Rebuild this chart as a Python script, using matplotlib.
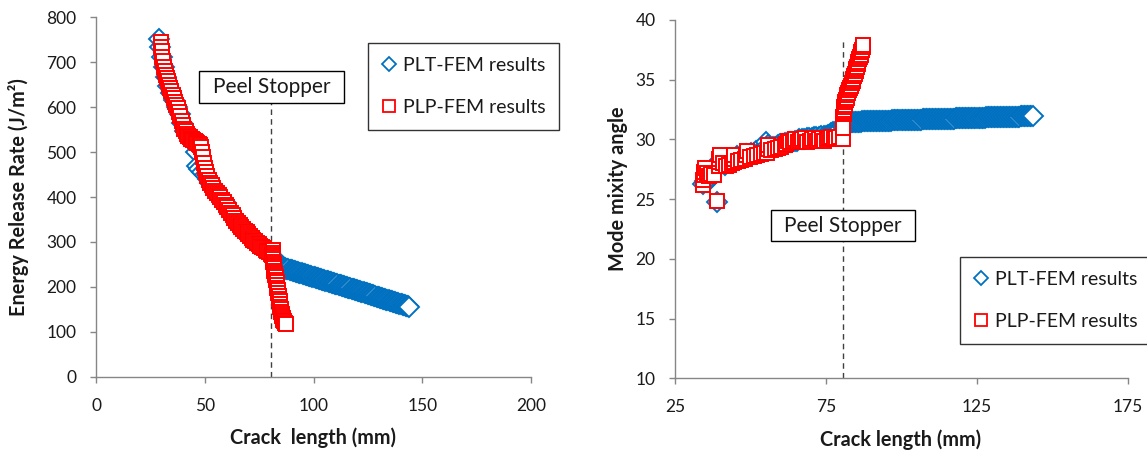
import matplotlib
matplotlib.use("Agg")
import matplotlib.pyplot as plt
from matplotlib.lines import Line2D
from matplotlib.patches import Rectangle

plt.rcParams['font.family'] = ['Lato', 'DejaVu Sans']

# ---------------- data: energy release rate (left) ----------------
plt_a_G = [28.8, 29.5, 30.3, 31.2, 32.2, 33.3, 34.5, 35.8, 37.1, 38.4, 39.7, 41.0,
           42.3, 43.6, 44.9, 46.0, 46.4, 47.5, 48.8, 50.0, 51.3, 52.6, 53.9, 55.2,
           56.5, 57.8, 59.1, 60.4, 61.7, 63.0, 64.3, 65.6, 66.9, 68.2, 69.5, 70.8,
           72.1, 73.4, 74.7, 76.0, 77.3, 78.6, 79.9,
           81.0, 81.5, 82.0, 82.5, 83.0, 83.5, 84.0, 84.5, 85.0, 85.5,
           86.0, 86.5, 87.0, 87.5, 88.0, 88.5, 89.0, 89.5,
           90.0, 90.5, 91.0, 91.5, 92.0, 92.5, 93.0, 93.5,
           94.0, 94.5, 95.0, 95.5, 96.0, 96.5, 97.0, 97.5,
           98.0, 98.5, 99.0, 99.5, 100.0, 100.5, 101.0, 101.5,
           102.0, 102.5, 103.0, 103.5, 104.0, 104.5, 105.0, 105.5,
           106.0, 106.5, 107.0, 107.5, 108.0, 108.5, 109.0, 109.5,
           110.0, 110.5, 111.0, 111.5, 112.0, 112.5, 113.0, 113.5,
           114.0, 114.5, 115.0, 115.5, 116.0, 116.5, 117.0, 117.5,
           118.0, 118.5, 119.0, 119.5, 120.0, 120.5, 121.0, 121.5,
           122.0, 122.5, 123.0, 123.5, 124.0, 124.5, 125.0, 125.5,
           126.0, 126.5, 127.0, 127.5, 128.0, 128.5, 129.0, 129.5,
           130.0, 130.5, 131.0, 131.5, 132.0, 132.5, 133.0, 133.5,
           134.0, 134.5, 135.0, 135.5, 136.0, 136.5, 137.0, 137.5,
           138.0, 138.5, 139.0, 139.5, 140.0, 140.5, 141.0, 141.5,
           142.0, 142.5, 143.0, 143.5, 144.0]
plt_G = [752, 735, 712, 690, 668, 648, 632, 615, 600, 585, 565, 548,
         540, 533, 526, 500, 470, 462, 455, 448, 440, 432, 424, 414,
         405, 397, 388, 378, 369, 360, 350, 341, 334, 327, 320, 314,
         308, 302, 297, 291, 286, 281, 276,
         266.0, 263.7, 261.4, 259.1, 256.8, 254.5, 252.2, 249.9, 247.6, 245.3,
         243.0, 242.2, 241.5, 240.8, 240.0, 239.2, 238.5, 237.8,
         237.0, 236.2, 235.5, 234.8, 234.0, 233.2, 232.5, 231.8,
         231.0, 230.2, 229.5, 228.8, 228.0, 227.2, 226.5, 225.8,
         225.0, 224.2, 223.5, 222.8, 222.0, 221.2, 220.5, 219.8,
         219.0, 218.2, 217.5, 216.8, 216.0, 215.2, 214.5, 213.8,
         213.0, 212.2, 211.5, 210.8, 210.0, 209.2, 208.5, 207.8,
         207.0, 206.2, 205.5, 204.8, 204.0, 203.2, 202.5, 201.8,
         201.0, 200.2, 199.5, 198.8, 198.0, 197.2, 196.5, 195.8,
         195.0, 194.2, 193.5, 192.8, 192.0, 191.2, 190.5, 189.8,
         189.0, 188.2, 187.5, 186.8, 186.0, 185.2, 184.5, 183.8,
         183.0, 182.2, 181.5, 180.8, 180.0, 179.2, 178.5, 177.8,
         177.0, 176.2, 175.5, 174.8, 174.0, 173.2, 172.5, 171.8,
         171.0, 170.2, 169.5, 168.8, 168.0, 167.2, 166.5, 165.8,
         165.0, 164.2, 163.5, 162.8, 162.0, 161.2, 160.5, 159.8,
         159.0, 158.2, 157.5, 156.8, 156.0]

plp_a_G = [29.8, 30.0, 30.2, 30.5, 30.8, 31.2, 31.6, 32.0, 32.5, 33.0, 33.5, 34.0,
           34.6, 35.2, 35.8, 36.4, 37.0, 37.6, 38.2, 38.8, 39.4, 40.0, 40.6, 41.2,
           41.8, 42.4, 43.0, 43.6, 44.2, 44.8, 45.4, 46.0, 46.6, 47.2, 47.8, 48.4,
           48.8, 49.2, 49.6, 50.0, 50.6, 51.2, 51.8, 52.4, 53.2, 54.0, 54.8, 55.6,
           56.4, 57.2, 58.0, 58.8, 59.6, 60.4, 61.2, 62.0, 62.8, 63.6, 64.4, 65.2,
           66.0, 66.8, 67.6, 68.4, 69.2, 70.0, 70.8, 71.6, 72.4, 73.2, 74.0, 74.8,
           75.6, 76.4, 77.2, 78.0, 78.8, 79.6, 80.4, 81.0,
           81.3, 81.35, 81.4, 81.45, 81.5, 81.6, 81.7, 81.8, 81.9, 82.0, 82.2, 82.4,
           82.6, 82.8, 83.0, 83.2, 83.4, 83.6, 83.8, 84.0, 84.2, 84.4, 84.6, 84.8,
           85.0, 85.2, 85.4, 85.6, 85.8, 86.0, 86.3, 86.7, 87.4]
plp_G = [745, 735, 725, 712, 703, 690, 680, 672, 665, 658, 650, 642,
         636, 628, 620, 612, 604, 597, 590, 580, 570, 560, 552, 546,
         540, 536, 533, 530, 528, 526, 524, 522, 520, 518, 516, 512,
         500, 488, 476, 465, 455, 446, 438, 432, 426, 420, 414, 409,
         404, 399, 394, 389, 383, 377, 371, 365, 359, 353, 347, 342,
         337, 333, 329, 325, 321, 317, 313, 309, 305, 301, 298, 295,
         292, 289, 286, 283, 280, 277, 274, 272,
         281, 276, 271, 266, 261, 256, 251, 246, 241, 236, 231, 226,
         221, 216, 210, 204, 198, 192, 186, 180, 174, 168, 162, 156,
         150, 145, 140, 135, 131, 127, 123, 120, 117]

# ---------------- data: mode mixity angle (right) ----------------
plt_a_psi = [34.4, 35.0, 35.6, 36.2, 36.8, 37.4, 38.0, 38.8, 39.2, 39.8, 40.6, 41.4,
             42.2, 43.0, 43.8, 44.6, 45.4, 46.2, 47.0, 47.8, 48.6, 49.4, 50.2, 51.0,
             51.8, 52.6, 53.4, 54.2, 55.0, 55.8, 56.6, 57.4, 58.2, 59.0, 59.8, 60.6,
             61.4, 62.2, 63.0, 63.8, 64.6, 65.4, 66.2, 67.0, 67.8, 68.6, 69.4, 70.2,
             71.0, 71.8, 72.6, 73.4, 74.2, 75.0, 75.8, 76.6, 77.4, 78.2, 79.0, 79.8,
             80.5, 81.0, 81.5, 82.0, 82.5, 83.0, 83.5, 84.0, 84.5, 85.0, 85.5,
             86.0, 86.5, 87.0, 87.5, 88.0, 88.5, 89.0, 89.5,
             90.0, 90.5, 91.0, 91.5, 92.0, 92.5, 93.0, 93.5,
             94.0, 94.5, 95.0, 95.5, 96.0, 96.5, 97.0, 97.5,
             98.0, 98.5, 99.0, 99.5, 100.0, 100.5, 101.0, 101.5,
             102.0, 102.5, 103.0, 103.5, 104.0, 104.5, 105.0, 105.5,
             106.0, 106.5, 107.0, 107.5, 108.0, 108.5, 109.0, 109.5,
             110.0, 110.5, 111.0, 111.5, 112.0, 112.5, 113.0, 113.5,
             114.0, 114.5, 115.0, 115.5, 116.0, 116.5, 117.0, 117.5,
             118.0, 118.5, 119.0, 119.5, 120.0, 120.5, 121.0, 121.5,
             122.0, 122.5, 123.0, 123.5, 124.0, 124.5, 125.0, 125.5,
             126.0, 126.5, 127.0, 127.5, 128.0, 128.5, 129.0, 129.5,
             130.0, 130.5, 131.0, 131.5, 132.0, 132.5, 133.0, 133.5,
             134.0, 134.5, 135.0, 135.5, 136.0, 136.5, 137.0, 137.5,
             138.0, 138.5, 139.0, 139.5, 140.0, 140.5, 141.0, 141.5,
             142.0, 142.5, 143.0, 143.5]
plt_psi = [26.3, 26.5, 26.4, 26.6, 26.9, 27.2, 27.5, 24.75, 28.0, 28.3, 28.0, 27.9,
           28.1, 28.2, 28.3, 28.4, 28.6, 28.4, 28.5, 28.7, 28.8, 28.7, 28.9, 28.9,
           29.0, 28.9, 29.0, 29.1, 29.8, 29.5, 29.3, 29.4, 29.4, 29.5, 29.6, 29.6,
           29.7, 29.7, 29.8, 29.8, 29.9, 29.9, 30.0, 30.0, 30.0, 30.1, 30.1, 30.1,
           30.2, 30.2, 30.2, 30.3, 30.3, 30.3, 30.4, 30.5, 30.6, 30.7, 30.8, 30.9,
           31.00, 31.10, 31.20, 31.28, 31.35, 31.40, 31.43, 31.45, 31.47, 31.48, 31.49,
           31.50, 31.50, 31.51, 31.51, 31.52, 31.52, 31.52, 31.53,
           31.53, 31.54, 31.54, 31.54, 31.55, 31.55, 31.56, 31.56,
           31.56, 31.57, 31.57, 31.58, 31.58, 31.58, 31.59, 31.59,
           31.60, 31.60, 31.60, 31.61, 31.61, 31.62, 31.62, 31.62,
           31.63, 31.63, 31.64, 31.64, 31.64, 31.65, 31.65, 31.66,
           31.66, 31.66, 31.67, 31.67, 31.68, 31.68, 31.68, 31.69,
           31.69, 31.70, 31.70, 31.70, 31.71, 31.71, 31.72, 31.72,
           31.72, 31.73, 31.73, 31.74, 31.74, 31.74, 31.75, 31.75,
           31.76, 31.76, 31.76, 31.77, 31.77, 31.78, 31.78, 31.78,
           31.79, 31.79, 31.80, 31.80, 31.80, 31.81, 31.81, 31.82,
           31.82, 31.82, 31.83, 31.83, 31.84, 31.84, 31.84, 31.85,
           31.85, 31.86, 31.86, 31.86, 31.87, 31.87, 31.88, 31.88,
           31.88, 31.89, 31.89, 31.90, 31.90, 31.90, 31.91, 31.91,
           31.92, 31.92, 31.92, 31.93, 31.93, 31.94, 31.94, 31.94,
           31.95, 31.95, 31.95, 31.95]

plp_a_psi = [34.3, 34.4, 34.5, 34.7, 35.0, 35.6, 36.3, 37.0, 37.8, 38.8, 39.5, 39.6,
             39.7, 39.8, 40.8, 41.8, 42.8, 43.8, 44.4, 44.5, 44.6, 45.8, 47.0, 48.2,
             48.6, 48.7, 49.8, 51.0, 52.2, 53.4, 54.6, 55.6, 55.7, 55.8, 56.9, 58.0,
             59.1, 60.2, 61.3, 61.8, 62.4, 63.2, 64.0, 64.8, 65.6, 66.4, 67.2, 68.0,
             68.8, 69.6, 70.4, 71.2, 72.0, 72.8, 73.6, 74.4, 75.2, 76.0, 76.8, 77.6,
             78.4, 79.2,
             80.6, 80.65, 80.7, 80.75, 80.8, 80.9, 81.0, 81.1, 81.25, 81.4, 81.6, 81.8,
             82.05, 82.3, 82.6, 82.9, 83.2, 83.5, 83.8, 84.05, 84.3, 84.55, 84.8, 85.0,
             85.25, 85.5, 85.75, 86.0, 86.25, 86.5, 86.75, 87.0, 87.2, 87.4,
             80.6, 80.6]
plp_psi = [26.2, 26.6, 27.0, 27.3, 27.6, 27.2, 26.9, 27.1, 27.0, 24.85, 27.8, 28.1,
           28.4, 28.7, 28.0, 27.8, 27.9, 28.0, 28.1, 28.4, 28.7, 28.2, 28.3, 28.4,
           28.7, 29.0, 28.5, 28.6, 28.7, 28.8, 28.9, 28.9, 29.2, 29.5, 29.1, 29.2,
           29.3, 29.4, 29.5, 29.6, 29.9, 29.8, 29.9, 30.0, 29.8, 29.9, 30.0, 30.1,
           29.8, 29.9, 30.0, 30.1, 29.9, 30.0, 30.1, 29.9, 30.0, 30.1, 30.2, 30.0,
           30.1, 30.2,
           31.3, 31.5, 31.7, 31.9, 32.1, 32.3, 32.5, 32.7, 32.9, 33.1, 33.3, 33.5,
           33.7, 33.9, 34.1, 34.3, 34.5, 34.7, 34.9, 35.1, 35.3, 35.5, 35.7, 35.9,
           36.1, 36.3, 36.5, 36.7, 36.9, 37.1, 37.3, 37.5, 37.7, 37.9,
           30.0, 30.95]

peel_stopper = 80.5
legend_labels = ["PLT-FEM results", "PLP-FEM results"]

# ---------------- style ----------------
BLUE = "#0070C0"
RED = "#FF0000"
AXC = "#868686"
TXT = "#1a1a1a"
W, H = 1147, 450

fig = plt.figure(figsize=(W / 100, H / 100), dpi=100)
axL = fig.add_axes([96 / W, 1 - 376.7 / H, 435 / W, 359.4 / H])
axR = fig.add_axes([675 / W, 1 - 378.3 / H, 453 / W, 358.3 / H])


def style(ax):
    for s in ("top", "right"):
        ax.spines[s].set_visible(False)
    for s in ("left", "bottom"):
        ax.spines[s].set_color(AXC)
        ax.spines[s].set_linewidth(1.0)
    ax.tick_params(direction="out", length=4.5, width=1.0, color=AXC,
                   labelsize=12.5, labelcolor=TXT)
    ax.tick_params(axis="y", pad=9.5)
    ax.tick_params(axis="x", pad=10.5)
    ax.set_facecolor("none")


def markers(ax, x, y, m, c, ms):
    ax.plot(x, y, linestyle="none", marker=m, ms=ms, mfc="white", mec=c,
            mew=1.4, zorder=3)


def peel_box(ax, x0, y0, w, h):
    ax.add_patch(Rectangle((x0, y0), w, h, transform=ax.transAxes, fc="white",
                           ec="black", lw=1.0, zorder=5))
    ax.text(x0 + w / 2, y0 + h / 2, "Peel Stopper", transform=ax.transAxes,
            ha="center", va="center", fontsize=15, color=TXT, zorder=6)


# ---- left ----
markers(axL, plt_a_G, plt_G, "D", BLUE, 9.8)
markers(axL, plp_a_G, plp_G, "s", RED, 10.6)
axL.set_xlim(0, 200)
axL.set_ylim(0, 800)
axL.set_xticks([0, 50, 100, 150, 200])
axL.set_yticks(range(0, 801, 100))
style(axL)
axL.plot([peel_stopper, peel_stopper], [0, 613], color="#404040", lw=1.0,
         dashes=(4, 3), zorder=2)
peel_box(axL, (199 - 96) / 435, (376.7 - 103) / 359.4, 145 / 435, 32 / 359.4)
axL.set_xlabel("Crack  length (mm)", fontsize=14.3, fontweight="bold", color=TXT)
axL.set_ylabel("Energy Release Rate (J/m²)", fontsize=14.3, fontweight="bold", color=TXT)
axL.xaxis.set_label_coords(0.5, -0.142)
axL.yaxis.set_label_coords(-0.154, 0.5)

# ---- right ----
markers(axR, plt_a_psi, plt_psi, "D", BLUE, 9.8)
markers(axR, plp_a_psi, plp_psi, "s", RED, 10.6)
axR.set_xlim(25, 175)
axR.set_ylim(10, 40)
axR.set_xticks([25, 75, 125, 175])
axR.set_yticks(range(10, 41, 5))
style(axR)
axR.plot([peel_stopper, peel_stopper], [10, 38.3], color="#404040", lw=1.0,
         dashes=(4, 3), zorder=2)
peel_box(axR, (770.7 - 675) / 453, (378.3 - 241) / 358.3, 144.3 / 453, 31 / 358.3)
axR.set_xlabel("Crack length (mm)", fontsize=14.3, fontweight="bold", color=TXT)
axR.set_ylabel("Mode mixity angle", fontsize=14.3, fontweight="bold", color=TXT)
axR.xaxis.set_label_coords(0.497, -0.142)
axR.yaxis.set_label_coords(-0.104, 0.53)

# ---- legends ----
handles = [Line2D([], [], linestyle="none", marker="D", ms=7, mfc="white", mec=BLUE, mew=1.3),
           Line2D([], [], linestyle="none", marker="s", ms=9, mfc="white", mec=RED, mew=1.3)]
for ax, anchor in ((axL, (368 / W, 1 - 43 / H)), (axR, (960 / W, 1 - 257 / H))):
    leg = ax.legend(handles, legend_labels, loc="upper left", bbox_to_anchor=anchor,
                    bbox_transform=fig.transFigure, frameon=True, fancybox=False,
                    fontsize=14, labelspacing=1.3, handlelength=0.8, handletextpad=0.3,
                    borderpad=0.7, borderaxespad=0)
    leg.get_frame().set_edgecolor("black")
    leg.get_frame().set_linewidth(1.0)
    leg.set_zorder(7)
    for t in leg.get_texts():
        t.set_color(TXT)

fig.savefig("out.png", dpi=100)
